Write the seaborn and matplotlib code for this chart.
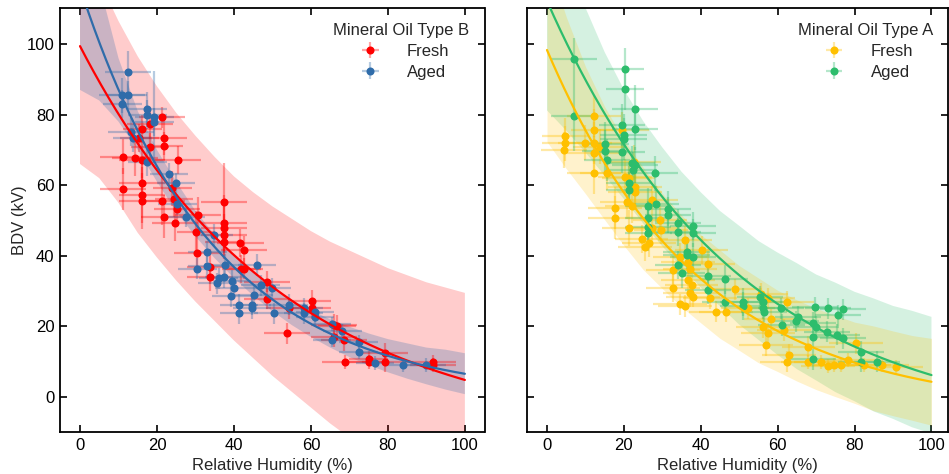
import numpy as np
import matplotlib
matplotlib.use("Agg")
import matplotlib.pyplot as plt
import matplotlib.colors as mcolors
import seaborn as sns

# ---------------- data ----------------
# Mineral Oil Type B - Fresh
B_fresh_x = [21.2, 18.2, 16.2, 15.4, 21.8, 21.8, 18.2, 11.1, 14.2, 16.2, 25.5, 16.2, 11.1, 16.2, 16.2, 21.2,
             24.0, 24.4, 21.8, 25.3, 24.6, 30.6, 30.1, 30.3, 37.4, 37.4, 37.4, 37.4, 37.4, 41.7, 42.6, 41.9,
             42.6, 33.9, 33.8, 48.6, 48.6, 54.2, 53.8, 60.3, 60.3, 65.9, 66.8, 65.9, 68.5, 68.9, 75.0, 75.0,
             79.3, 79.3, 91.8, 91.8]
B_fresh_y = [79.2, 77.2, 75.9, 73.3, 73.5, 71.2, 70.9, 68.1, 67.6, 67.1, 67.1, 60.5, 58.9, 57.2, 55.5, 55.6,
             59.1, 56.1, 51.1, 53.3, 49.2, 51.6, 46.8, 40.7, 55.3, 49.2, 47.8, 45.9, 44.0, 43.7, 41.6, 36.2,
             36.4, 36.9, 34.1, 32.7, 27.9, 25.1, 18.0, 27.3, 25.1, 20.4, 20.1, 17.1, 16.1, 10.0, 10.9, 10.0,
             12.4, 10.0, 10.0, 9.1]
B_fresh_xerr = [6, 6, 5, 5, 6, 5, 5, 6, 6, 6, 6, 6, 6, 6, 6, 6, 5, 5, 6, 6, 6, 6, 5, 6, 6, 6, 6, 6, 5, 6,
                6, 5, 5, 6, 6, 6, 6, 6, 6, 5, 5, 6, 5, 6, 6, 6, 5, 5, 6, 6, 6, 6]
B_fresh_yerr = [3, 4, 4, 4, 5, 4, 4, 5, 5, 5, 4, 6, 6, 8, 8, 7, 5, 5, 6, 4, 5, 5, 6, 5, 11, 8, 7, 6, 5, 4,
                4, 4, 3, 5, 4, 3, 3, 3, 3, 3, 3, 3, 3, 3, 3, 2, 2, 2, 3, 3, 2, 2]

# Mineral Oil Type B - Aged
B_aged_x = [12.4, 11.0, 12.4, 11.0, 17.5, 17.5, 19.3, 19.3, 13.2, 13.7, 17.5, 23.1, 24.9, 25.3, 27.5, 34.8,
            33.1, 33.1, 30.5, 37.8, 36.0, 37.5, 39.5, 35.7, 40.0, 39.3, 41.3, 41.3, 44.7, 44.7, 45.2, 46.0,
            46.9, 49.9, 50.3, 54.2, 58.1, 58.1, 61.1, 61.1, 65.5, 68.2, 65.5, 72.4, 72.4, 76.7, 84.0, 90.0]
B_aged_y = [92.0, 85.5, 85.5, 83.0, 81.5, 80.0, 79.4, 78.0, 75.0, 73.3, 66.7, 63.3, 60.5, 54.6, 51.1, 45.9,
            41.2, 37.0, 36.4, 37.4, 33.6, 34.0, 33.0, 32.2, 30.8, 28.6, 26.1, 23.7, 26.1, 25.1, 28.9, 37.4,
            31.7, 30.8, 23.7, 26.1, 25.1, 23.7, 24.2, 22.7, 20.7, 18.8, 16.1, 15.5, 12.8, 9.7, 9.1, 9.1]
B_aged_xerr = [6, 6, 5, 5, 5, 5, 5, 5, 6, 5, 5, 5, 5, 5, 5, 5, 5, 5, 5, 5, 5, 5, 5, 5, 5, 5, 5, 5, 5, 5,
               5, 5, 5, 5, 5, 5, 5, 5, 5, 5, 5, 5, 5, 5, 5, 5, 5, 5]
B_aged_yerr = [6, 5, 4, 4, 5, 4, 13, 4, 4, 4, 4, 3, 3, 3, 3, 3, 3, 3, 3, 3, 3, 3, 3, 3, 3, 3, 3, 3, 3, 3,
               3, 3, 3, 3, 3, 3, 3, 3, 3, 3, 2, 2, 2, 2, 2, 2, 2, 2]

# Mineral Oil Type A - Fresh
A_fresh_x = [12.2, 12.2, 19.5, 4.8, 4.8, 4.4, 9.9, 12.2, 13.8, 12.2, 22.7, 12.2, 15.6, 20.3, 21.2, 22.9,
             22.9, 20.7, 22.0, 17.7, 17.7, 21.3, 27.2, 29.5, 29.6, 27.2, 24.6, 25.5, 26.5, 35.8, 40.2, 34.5,
             36.7, 37.1, 32.8, 41.9, 36.7, 37.6, 32.8, 37.1, 38.0, 34.5, 35.8, 42.3, 44.0, 46.6, 48.8, 52.3,
             55.7, 57.4, 62.5, 58.3, 56.1, 57.4, 61.7, 57.0, 63.0, 62.4, 68.0, 67.8, 71.2, 73.0, 74.7, 76.4,
             78.3, 80.3, 82.5, 87.2, 90.9]
A_fresh_y = [79.6, 75.6, 75.6, 73.9, 71.9, 70.0, 72.0, 72.0, 70.9, 69.0, 66.5, 63.5, 63.5, 62.4, 61.9, 59.6,
             58.2, 55.3, 54.2, 53.6, 50.8, 47.9, 55.8, 50.1, 47.3, 47.8, 44.8, 42.6, 43.7, 44.5, 41.6, 39.7,
             38.3, 36.4, 36.0, 37.8, 33.1, 31.7, 30.8, 29.4, 28.4, 26.3, 25.8, 28.0, 24.2, 24.2, 30.5, 25.1,
             29.2, 28.0, 27.0, 22.0, 19.7, 18.0, 19.0, 14.7, 11.9, 10.0, 14.2, 10.0, 10.0, 8.8, 9.1, 9.1,
             10.5, 15.2, 9.1, 9.1, 8.4]
A_fresh_xerr = [7, 6, 7, 6, 6, 6, 7, 7, 7, 7, 7, 7, 7, 7, 7, 7, 7, 7, 7, 7, 7, 7, 7, 7, 7, 7, 7, 7, 7, 7,
                7, 7, 7, 7, 7, 7, 7, 7, 7, 7, 7, 7, 7, 7, 7, 7, 7, 7, 7, 7, 7, 7, 7, 7, 7, 7, 7, 7, 7, 7,
                7, 7, 7, 7, 7, 7, 7, 7, 7]
A_fresh_yerr = [6, 6, 5, 5, 5, 5, 5, 6, 5, 5, 5, 6, 5, 5, 5, 5, 5, 5, 5, 6, 6, 5, 4, 4, 4, 4, 4, 4, 4, 4,
                4, 4, 4, 4, 4, 4, 4, 4, 4, 4, 3, 3, 3, 3, 3, 3, 3, 3, 3, 3, 3, 3, 3, 3, 3, 3, 3, 3, 3, 2,
                2, 2, 2, 2, 2, 3, 2, 2, 2]

# Mineral Oil Type A - Aged
A_aged_x = [7.1, 20.3, 20.3, 22.9, 7.1, 19.4, 22.9, 19.9, 19.9, 15.2, 15.2, 19.4, 15.5, 22.0, 22.9, 22.5,
            28.1, 21.4, 21.4, 26.3, 28.3, 31.5, 31.5, 26.3, 26.3, 26.4, 34.1, 34.1, 38.0, 38.0, 36.3, 36.3,
            38.0, 34.1, 35.0, 41.9, 46.2, 41.9, 51.0, 51.0, 55.5, 56.1, 56.1, 56.4, 60.9, 65.2, 64.8, 61.0,
            69.1, 70.0, 69.1, 69.7, 73.0, 75.6, 77.1, 72.8, 75.4, 76.9, 81.6, 81.6, 85.8, 69.1, 46.2]
A_aged_y = [95.8, 92.9, 87.2, 81.5, 79.7, 77.1, 75.9, 74.2, 73.1, 71.8, 69.7, 69.5, 67.1, 66.2, 65.7, 64.3,
            63.4, 60.5, 58.7, 54.2, 54.7, 53.4, 51.6, 50.6, 48.2, 46.4, 49.2, 46.8, 48.5, 46.4, 41.2, 40.2,
            39.7, 37.4, 35.0, 34.3, 33.3, 30.3, 27.0, 25.8, 28.4, 27.0, 25.1, 24.2, 25.1, 22.7, 21.5, 20.4,
            21.0, 19.9, 17.1, 25.4, 25.1, 23.2, 24.8, 18.5, 17.6, 16.6, 12.8, 10.0, 10.0, 10.7, 27.0]
A_aged_xerr = [6, 5, 5, 6, 6, 6, 6, 6, 6, 6, 6, 6, 6, 6, 6, 6, 6, 6, 6, 6, 6, 6, 6, 6, 6, 6, 6, 6, 6, 6,
               6, 6, 6, 6, 6, 6, 6, 6, 6, 6, 6, 6, 6, 6, 6, 6, 6, 6, 6, 6, 6, 6, 6, 6, 6, 6, 6, 6, 6, 6,
               6, 6, 6]
A_aged_yerr = [6, 6, 6, 7, 10, 6, 6, 6, 6, 6, 6, 6, 6, 5, 5, 5, 5, 5, 5, 5, 5, 5, 5, 5, 5, 5, 4, 4, 4, 4,
               4, 4, 4, 4, 4, 4, 4, 4, 4, 4, 3, 3, 3, 3, 3, 3, 3, 3, 3, 3, 3, 3, 3, 3, 3, 3, 3, 3, 3, 3,
               3, 3, 3]

# fitted model parameters y = a * exp(-b * x) + c
fit_B_fresh = (111.2, 0.0190, -11.8)
fit_B_aged = (116.0, 0.0287, 0.0)
fit_A_fresh = (102.3, 0.0251, -4.0)
fit_A_aged = (122.2, 0.0202, -10.0)

# confidence bands sampled every 5 % RH
band_x = [0, 5, 10, 15, 20, 25, 30, 35, 40, 45, 50, 55, 60, 65, 70, 75, 80, 85, 90, 95, 100]
B_fresh_lo = [66, 62, 55, 46.5, 39.5, 33, 27, 21.5, 16, 11, 6, 1.5, -3, -7.5, -11.5, -15.5, -19.5, -23,
              -26.5, -30, -33]
B_fresh_hi = [131, 118, 106.5, 96.5, 88, 80.5, 74, 68, 62.5, 58, 54, 50.5, 47, 44, 41.5, 39, 36.5, 34.5,
              32.5, 31, 29.5]
B_aged_lo = [87, 84, 78, 70, 61, 52.5, 45.5, 39.3, 33.7, 28.7, 24.3, 20.4, 17, 14, 11.3, 9, 7, 5.2, 3.6,
             2.1, 0.8]
B_aged_hi = [145, 117, 96, 81, 70, 61, 52.7, 45.9, 40.1, 35.3, 31.1, 27.6, 24.6, 22, 19.9, 18, 16.4, 15.2,
             14, 13.4, 12.4]
A_fresh_lo = [72.3, 64.7, 57.6, 50.2, 42.9, 36.1, 30.7, 25.5, 21, 16.6, 13.2, 9.7, 7.2, 4.5, 2.1, 0.1, -1.8,
              -3.9, -5.3, -6.6, -8.0]
A_fresh_hi = [124.3, 107.7, 93.6, 82.2, 72.9, 65.1, 57.7, 51.5, 46, 41.6, 37.2, 33.7, 30.2, 27.5, 25.1,
              23.1, 21.2, 20.1, 18.7, 17.4, 16.6]
A_aged_lo = [81.2, 75.5, 69.3, 62.7, 56.1, 49.2, 42.7, 36.8, 31, 25.7, 20.5, 16.2, 11.9, 7.9, 4.7, 1.4,
             -1.2, -4.1, -6.2, -8.6, -10.3]
A_aged_hi = [143.2, 125.5, 110.3, 97.7, 87.1, 78.2, 70.7, 63.8, 58, 52.7, 48.5, 44.2, 40.9, 37.9, 34.7,
             32.4, 29.8, 27.9, 25.8, 24.4, 22.7]

x_ticks = [0, 20, 40, 60, 80, 100]
y_ticks = [0, 20, 40, 60, 80, 100]
series_labels = ["Fresh", "Aged"]
panel_titles = ["Mineral Oil Type B", "Mineral Oil Type A"]

# ---------------- style ----------------
sns.set_theme(style="ticks")
plt.rcParams["font.family"] = ["Liberation Sans", "DejaVu Sans"]
plt.rcParams["font.size"] = 12

C_RED = "#ff0000"
C_BLUE = "#2f6caa"
C_GOLD = "#ffc000"
C_GREEN = "#2dbd6c"

fig = plt.figure(figsize=(9.49, 4.74), dpi=100)
W, H = 949.0, 474.0
axL = fig.add_axes([60 / W, (H - 432.3) / H, 424.5 / W, 424.3 / H])
axR = fig.add_axes([527 / W, (H - 432.3) / H, 421.0 / W, 424.3 / H])

xfine = np.linspace(0, 100, 401)


def model(p):
    a, b, c = p
    return a * np.exp(-b * xfine) + c


def draw_points(ax, x, y, xe, ye, color):
    return ax.errorbar(x, y, xerr=xe, yerr=ye, fmt="o", color=color, ms=5.8, mec="none",
                       ecolor=mcolors.to_rgba(color, 0.35), elinewidth=1.6, capsize=0, zorder=3)


# ---- left panel (Type B) ----
axL.fill_between(band_x, B_fresh_lo, B_fresh_hi, color=C_RED, alpha=0.2, lw=0, zorder=1)
axL.fill_between(band_x, B_aged_lo, B_aged_hi, color=C_BLUE, alpha=0.25, lw=0, zorder=1.1)
hF = draw_points(axL, B_fresh_x, B_fresh_y, B_fresh_xerr, B_fresh_yerr, C_RED)
hA = draw_points(axL, B_aged_x, B_aged_y, B_aged_xerr, B_aged_yerr, C_BLUE)
sns.lineplot(x=xfine, y=model(fit_B_fresh), ax=axL, color=C_RED, lw=1.6, zorder=4)
sns.lineplot(x=xfine, y=model(fit_B_aged), ax=axL, color=C_BLUE, lw=1.6, zorder=4)
axL.legend([hF, hA], series_labels, title=panel_titles[0], loc="upper right", frameon=False,
           fontsize=12, title_fontsize=12, labelspacing=0.35, handletextpad=1.2)

# ---- right panel (Type A) ----
axR.fill_between(band_x, A_aged_lo, A_aged_hi, color=C_GREEN, alpha=0.2, lw=0, zorder=1)
axR.fill_between(band_x, A_fresh_lo, A_fresh_hi, color=C_GOLD, alpha=0.2, lw=0, zorder=1.1)
hF2 = draw_points(axR, A_fresh_x, A_fresh_y, A_fresh_xerr, A_fresh_yerr, C_GOLD)
hA2 = draw_points(axR, A_aged_x, A_aged_y, A_aged_xerr, A_aged_yerr, C_GREEN)
sns.lineplot(x=xfine, y=model(fit_A_fresh), ax=axR, color=C_GOLD, lw=1.6, zorder=4)
sns.lineplot(x=xfine, y=model(fit_A_aged), ax=axR, color=C_GREEN, lw=1.6, zorder=4)
axR.legend([hF2, hA2], series_labels, title=panel_titles[1], loc="upper right", frameon=False,
           fontsize=12, title_fontsize=12, labelspacing=0.35, handletextpad=1.2)

for ax, xmax in ((axL, 105.1), (axR, 104.3)):
    ax.set_xlim(-5.2, xmax)
    ax.set_ylim(-10, 110.2)
    ax.set_xticks(x_ticks)
    ax.set_yticks(y_ticks)
    ax.set_xlabel("Relative Humidity (%)", fontsize=12, labelpad=4)
    ax.tick_params(direction="in", length=5, width=1.2, top=True, right=True, labelsize=12, pad=4,
                   color="black", labelcolor="black")
    for s in ax.spines.values():
        s.set_linewidth(1.3)
        s.set_color("black")
    ax.set_facecolor("white")

axL.set_ylabel("BDV (kV)", fontsize=12, labelpad=0)
axR.set_ylabel("")
axR.tick_params(labelleft=False)

fig.savefig("out.png", dpi=100, facecolor="white")
